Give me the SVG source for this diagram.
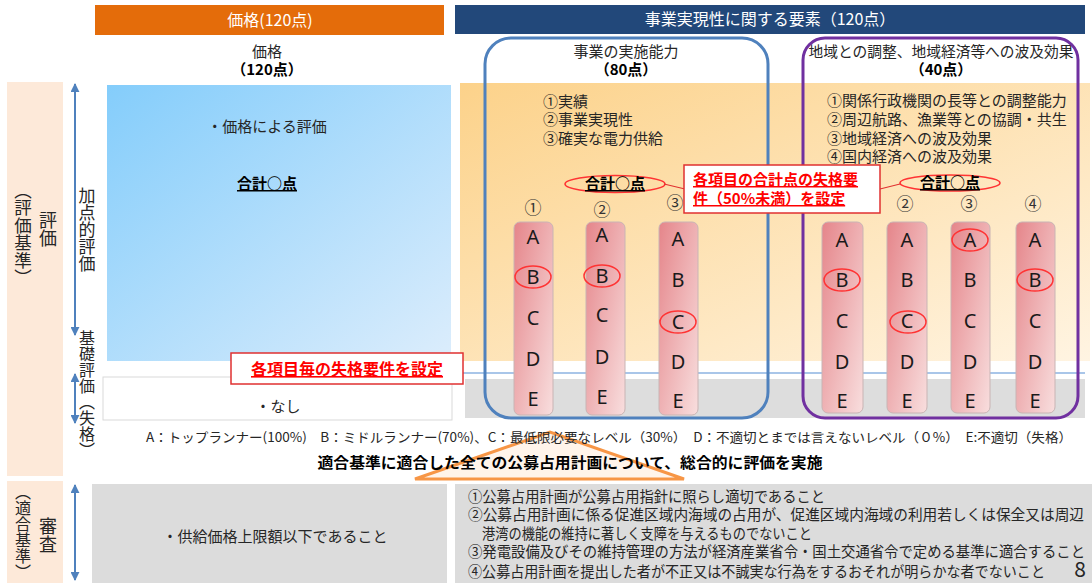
<svg xmlns="http://www.w3.org/2000/svg" width="1092" height="583" viewBox="0 0 1092 583">
<defs>
<linearGradient id="gBlue" x1="0" y1="0" x2="1" y2="1">
<stop offset="0" stop-color="#84cdfb"/><stop offset="1" stop-color="#dcedfc"/>
</linearGradient>
<linearGradient id="gOrange" x1="0" y1="0" x2="1" y2="1">
<stop offset="0" stop-color="#fcd28a"/><stop offset="1" stop-color="#fff4e2"/>
</linearGradient>
<linearGradient id="gBar" x1="0" y1="0" x2="1" y2="1">
<stop offset="0" stop-color="#e5858a"/><stop offset="1" stop-color="#f8dede"/>
</linearGradient>
<marker id="ah" viewBox="0 0 10 10" refX="9" refY="5" markerWidth="9" markerHeight="9" markerUnits="userSpaceOnUse" orient="auto-start-reverse">
<path d="M0,0 L10,5 L0,10 z" fill="#4f81bd"/>
</marker>
</defs>
<style>
text{font-family:"Noto Sans CJK JP","Noto Sans",sans-serif;fill:#262626}
.hd{font-size:16px;fill:#fff;text-anchor:middle}
.t15{font-size:15px}
.mid{text-anchor:middle}
.b{font-weight:bold;fill:#000}
.u{text-decoration:underline}
.red{font-weight:bold;fill:#ff0000;text-decoration:underline}
.vt{writing-mode:vertical-rl;text-anchor:middle}
.num{font-size:17px;text-anchor:middle;fill:#333}
.let{font-family:"Noto Sans",sans-serif;font-size:20px;text-anchor:middle;fill:#1a1a1a}
.bar{fill:url(#gBar);stroke:#c9b4b4;stroke-width:1}
.ov{fill:none;stroke:#ff3333;stroke-width:1.5}
.pink{fill:#fde9d9}
.gray{fill:#dcdcdc}
.arr{stroke:#4f81bd;stroke-width:2;fill:none;marker-start:url(#ah);marker-end:url(#ah)}
.rbox{fill:#fff;stroke:#e03030;stroke-width:1.5}
</style>

<!-- headers -->
<g id="hdr-price">
<rect x="95" y="5" width="349" height="30" fill="#e46c0a"/>
<text class="hd" x="270" y="26">価格(120点)</text>
</g>
<g id="hdr-feas">
<rect x="455" y="5" width="630" height="29" fill="#22487a"/>
<text class="hd" x="770" y="25">事業実現性に関する要素（120点）</text>
</g>

<!-- left side labels -->
<g id="side-eval">
<rect class="pink" x="7" y="82" width="56" height="394"/>
<text class="vt" x="48" y="229" font-size="18">評価</text>
<text class="vt" x="23" y="234" font-size="17.5">（評価基準）</text>
</g>
<g id="side-exam">
<rect class="pink" x="7" y="481" width="56" height="102"/>
<text class="vt" x="48" y="535" font-size="18">審査</text>
<text class="vt" x="23" y="532" font-size="16">（適合基準）</text>
</g>
<g id="side-axis">
<text class="vt" x="87" y="230" font-size="17">加点的評価</text>
<text class="vt" x="87" y="394" font-size="16">基礎評価（失格）</text>
</g>

<!-- price column -->
<g id="price-col">
<text class="t15 mid" x="267" y="57">価格</text>
<text class="t15 mid b" x="267" y="75">（120点）</text>
<rect x="107" y="85" width="344" height="276" fill="url(#gBlue)"/>
<text class="t15 mid" x="267" y="132">・価格による評価</text>
<text class="t15 mid b u" x="267" y="189">合計○点</text>
<rect x="103" y="377" width="349" height="43" fill="#fff" stroke="#d9d9d9"/>
<text class="t15 mid" x="278" y="412">・なし</text>
</g>

<!-- feasibility background -->
<g id="feas-bg">
<rect x="460" y="83" width="630" height="278" fill="url(#gOrange)"/>
<rect x="465" y="379" width="620" height="39" fill="#dddddd"/>
<line x1="463" y1="373" x2="1085" y2="373" stroke="#8db3e2" stroke-width="1.5"/>
</g>

<!-- 事業の実施能力 -->
<g id="capability">
<text class="t15 mid" x="626" y="57">事業の実施能力</text>
<text class="t15 mid b" x="626" y="75">（80点）</text>
<text class="t15" x="543" y="107">①実績</text>
<text class="t15" x="543" y="125">②事業実現性</text>
<text class="t15" x="543" y="144">③確実な電力供給</text>
<ellipse class="ov" cx="615" cy="184" rx="50" ry="8.5"/>
<text class="t15 mid b u" x="615" y="189">合計○点</text>
<text class="num" x="533" y="214">①</text>
<text class="num" x="602" y="216">②</text>
<text class="num" x="675" y="209">③</text>
<rect class="bar" x="514" y="222" width="39" height="193" rx="6"/>
<rect class="bar" x="586" y="222" width="39" height="193" rx="6"/>
<rect class="bar" x="659" y="222" width="39" height="193" rx="6"/>
<g class="letters">
<text class="let" x="533" y="244">A</text><text class="let" x="533" y="284">B</text><text class="let" x="533" y="325">C</text><text class="let" x="533" y="366">D</text><text class="let" x="533" y="406">E</text>
<text class="let" x="602" y="242">A</text><text class="let" x="602" y="283">B</text><text class="let" x="602" y="322">C</text><text class="let" x="602" y="364">D</text><text class="let" x="602" y="404">E</text>
<text class="let" x="678" y="246">A</text><text class="let" x="678" y="287">B</text><text class="let" x="678" y="329">C</text><text class="let" x="678" y="369">D</text><text class="let" x="678" y="408">E</text>
</g>
<ellipse class="ov" cx="533" cy="277" rx="18" ry="11"/>
<ellipse class="ov" cx="602" cy="276" rx="18" ry="11"/>
<ellipse class="ov" cx="678" cy="322" rx="18" ry="11"/>
<rect x="485" y="38" width="283" height="380" rx="26" fill="none" stroke="#4f81bd" stroke-width="3"/>
</g>

<!-- 地域との調整 -->
<g id="regional">
<text class="t15 mid" x="941" y="57" textLength="265" lengthAdjust="spacingAndGlyphs">地域との調整、地域経済等への波及効果</text>
<text class="t15 mid b" x="941" y="75">（40点）</text>
<text class="t15" x="827" y="106">①関係行政機関の長等との調整能力</text>
<text class="t15" x="827" y="125">②周辺航路、漁業等との協調・共生</text>
<text class="t15" x="827" y="144">③地域経済への波及効果</text>
<text class="t15" x="827" y="162">④国内経済への波及効果</text>
<ellipse class="ov" cx="950" cy="183" rx="50" ry="8"/>
<text class="t15 mid b u" x="950" y="188">合計○点</text>
<text class="num" x="905" y="210">②</text>
<text class="num" x="969" y="210">③</text>
<text class="num" x="1033" y="210">④</text>
<rect class="bar" x="822" y="222" width="41" height="191" rx="6"/>
<rect class="bar" x="887" y="222" width="40" height="191" rx="6"/>
<rect class="bar" x="951" y="222" width="39" height="191" rx="6"/>
<rect class="bar" x="1016" y="222" width="39" height="191" rx="6"/>
<g class="letters">
<text class="let" x="842" y="247">A</text><text class="let" x="842" y="287">B</text><text class="let" x="842" y="328">C</text><text class="let" x="842" y="369">D</text><text class="let" x="842" y="408">E</text>
<text class="let" x="907" y="247">A</text><text class="let" x="907" y="287">B</text><text class="let" x="907" y="328">C</text><text class="let" x="907" y="369">D</text><text class="let" x="907" y="408">E</text>
<text class="let" x="970" y="247">A</text><text class="let" x="970" y="287">B</text><text class="let" x="970" y="328">C</text><text class="let" x="970" y="369">D</text><text class="let" x="970" y="408">E</text>
<text class="let" x="1035" y="247">A</text><text class="let" x="1035" y="287">B</text><text class="let" x="1035" y="328">C</text><text class="let" x="1035" y="369">D</text><text class="let" x="1035" y="408">E</text>
</g>
<ellipse class="ov" cx="842" cy="280" rx="18" ry="11"/>
<ellipse class="ov" cx="908" cy="322" rx="18" ry="11"/>
<ellipse class="ov" cx="970" cy="240" rx="18" ry="11"/>
<ellipse class="ov" cx="1035" cy="280" rx="18" ry="11"/>
<rect x="803" y="38" width="275" height="380" rx="22" fill="none" stroke="#7030a0" stroke-width="3"/>
</g>

<!-- connectors -->
<g id="connectors">
<line x1="75" y1="84" x2="75" y2="335" class="arr"/>
<line x1="75" y1="374" x2="75" y2="423" class="arr"/>
<line x1="75" y1="485" x2="75" y2="580" class="arr"/>
<line x1="664" y1="184" x2="685" y2="189" stroke="#e03030" stroke-width="1.2"/>
<line x1="900" y1="184" x2="880" y2="189" stroke="#e03030" stroke-width="1.2"/>
</g>

<!-- callouts -->
<g id="callout-total">
<rect class="rbox" x="684" y="165" width="196" height="48"/>
<text class="t15 red" x="693" y="185">各項目の合計点の失格要</text>
<text class="t15 red" x="693" y="204">件（50%未満）を設定</text>
</g>
<g id="callout-item">
<rect class="rbox" x="231" y="353" width="232" height="31"/>
<text class="red" x="347" y="375" font-size="16" text-anchor="middle">各項目毎の失格要件を設定</text>
</g>

<!-- legend and summary -->
<g id="summary">
<polygon points="415,479 550,432 684,479" fill="#fff4ea" stroke="#f79646" stroke-width="3"/>
<text x="146" y="442" font-size="13" textLength="926" lengthAdjust="spacingAndGlyphs">A：トップランナー(100%)　B：ミドルランナー(70%)、C：最低限必要なレベル（30%）　D：不適切とまでは言えないレベル（０%）　E:不適切（失格）</text>
<text x="570" y="468" font-size="15" class="b mid" textLength="505" lengthAdjust="spacingAndGlyphs">適合基準に適合した全ての公募占用計画について、総合的に評価を実施</text>
</g>

<!-- bottom criteria -->
<g id="crit-price">
<rect class="gray" x="92" y="484" width="355" height="99"/>
<text class="t15 mid" x="275" y="542">・供給価格上限額以下であること</text>
</g>
<g id="crit-feas">
<rect class="gray" x="455" y="484" width="637" height="99"/>
<text class="t15" x="468" y="502" textLength="357" lengthAdjust="spacingAndGlyphs">①公募占用計画が公募占用指針に照らし適切であること</text>
<text class="t15" x="468" y="520" textLength="616" lengthAdjust="spacingAndGlyphs">②公募占用計画に係る促進区域内海域の占用が、促進区域内海域の利用若しくは保全又は周辺</text>
<text class="t15" x="482" y="539" textLength="330" lengthAdjust="spacingAndGlyphs">港湾の機能の維持に著しく支障を与えるものでないこと</text>
<text class="t15" x="468" y="557" textLength="617" lengthAdjust="spacingAndGlyphs">③発電設備及びその維持管理の方法が経済産業省令・国土交通省令で定める基準に適合すること</text>
<text class="t15" x="468" y="577" textLength="577" lengthAdjust="spacingAndGlyphs">④公募占用計画を提出した者が不正又は不誠実な行為をするおそれが明らかな者でないこと</text>
<text x="1080" y="577" font-size="21" text-anchor="middle" font-family="Liberation Sans, sans-serif">8</text>
</g>
</svg>
